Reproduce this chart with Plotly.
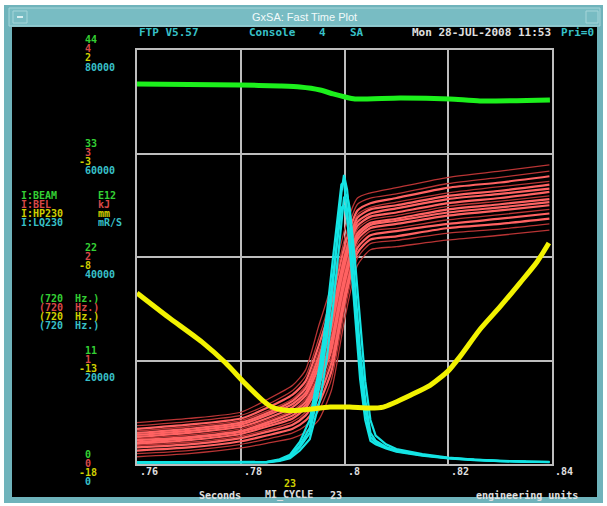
import plotly.graph_objects as go

W, H = 607, 506

# ---------------- data ----------------
x_ticks = [0.76, 0.78, 0.80, 0.82, 0.84]
x_tick_labels = [".76", ".78", ".8", ".82", ".84"]

channels = ["I:BEAM", "I:BEL", "I:HP230", "I:LQ230"]
units = ["E12", "kJ", "mm", "mR/S"]
rates = ["(720\u00a0\u00a0Hz.)"] * 4

green_ticks = [0, 11, 22, 33, 44]
red_ticks = [0, 1, 2, 3, 4]
yellow_ticks = [-18, -13, -8, -3, 2]
cyan_ticks = [0, 20000, 40000, 60000, 80000]

# I:BEAM (E12)
beam_t = [.760, .7799, .7876, .7914, .7953, .7978, .8001, .802, .8107, .8203, .8261, .8396]
beam_v = [40.39, 40.28, 40.17, 40.07, 39.75, 39.33, 39.01, 38.80, 38.91, 38.80, 38.58, 38.69]

# I:HP230 (mm)
hp_t = [.760, .766, .7725, .777, .7808, .7841, .786, .7885, .7914, .7972, .801, .8049, .8075,
        .8095, .8125, .8165, .820, .8223, .8261, .830, .8338, .8371, .8394]
hp_v = [-9.74, -10.9, -12.1, -13.1, -14.1, -14.9, -15.25, -15.4, -15.4, -15.25, -15.25, -15.3, -15.25,
        -15.05, -14.7, -14.2, -13.5, -12.8, -11.5, -10.4, -9.26, -8.24, -7.32]

# I:LQ230 (mR/S) - several pulses
lq_t = [.760, .770, .780, .785, .7875, .7895, .7914, .7933, .7953, .7966, .7978, .7987, .7994, .7999,
        .8005, .801, .802, .803, .804, .805, .806, .808, .810, .815, .820, .825, .830, .835, .8395]
lq_1 = [300, 300, 300, 350, 700, 1350, 3300, 6000, 15650, 24500, 35000, 44600, 52400, 55850,
        53000, 47700, 35000, 22000, 12400, 6000, 4500, 3300, 2600, 1740, 1160, 800, 580, 420, 390]
lq_2 = [300, 300, 320, 400, 900, 1800, 4300, 8500, 19500, 29000, 40000, 48500, 54000, 54500,
        49000, 42000, 29000, 16500, 8500, 4500, 3800, 3000, 2400, 1600, 1100, 750, 560, 410, 380]
lq_3 = [300, 300, 300, 330, 600, 1100, 2600, 4800, 12500, 20500, 30500, 40000, 47500, 51500,
        52000, 49500, 39500, 27000, 16000, 8500, 5500, 3800, 2900, 1900, 1250, 850, 600, 440, 400]
lq_4 = [280, 280, 300, 340, 750, 1500, 3600, 7000, 17500, 26500, 36500, 44500, 49500, 50000,
        47500, 42500, 31500, 19000, 10500, 5200, 4200, 3200, 2500, 1700, 1150, 780, 570, 420, 390]
lq_series = [lq_1, lq_2, lq_3, lq_4]

# I:BEL (kJ) - one curve per cycle
bel_t = [.76, .77, .78, .785, .79, .7925, .795, .7975, .80, .8025, .805, .81, .82, .83, .8395]
bel_01 = [0.40, 0.44, 0.50, 0.62, 0.76, 0.91, 1.33, 1.73, 2.26, 2.57, 2.62, 2.67, 2.77, 2.83, 2.89]
bel_02 = [0.37, 0.41, 0.47, 0.57, 0.71, 0.85, 1.21, 1.63, 2.17, 2.51, 2.57, 2.61, 2.71, 2.77, 2.83]
bel_03 = [0.34, 0.38, 0.44, 0.54, 0.67, 0.80, 1.14, 1.55, 2.10, 2.45, 2.52, 2.57, 2.67, 2.72, 2.78]
bel_04 = [0.32, 0.36, 0.42, 0.51, 0.63, 0.76, 1.08, 1.48, 2.04, 2.41, 2.48, 2.53, 2.62, 2.68, 2.73]
bel_05 = [0.30, 0.34, 0.40, 0.49, 0.61, 0.73, 1.03, 1.43, 2.00, 2.38, 2.46, 2.50, 2.59, 2.64, 2.70]
bel_06 = [0.28, 0.32, 0.38, 0.47, 0.58, 0.69, 0.98, 1.37, 1.95, 2.34, 2.42, 2.47, 2.56, 2.61, 2.66]
bel_07 = [0.26, 0.30, 0.36, 0.44, 0.55, 0.66, 0.93, 1.30, 1.90, 2.30, 2.39, 2.43, 2.52, 2.57, 2.63]
bel_08 = [0.245, 0.28, 0.34, 0.42, 0.52, 0.63, 0.89, 1.25, 1.85, 2.27, 2.36, 2.40, 2.49, 2.54, 2.59]
bel_09 = [0.23, 0.26, 0.32, 0.40, 0.50, 0.60, 0.84, 1.20, 1.81, 2.23, 2.33, 2.37, 2.46, 2.51, 2.56]
bel_10 = [0.21, 0.25, 0.31, 0.38, 0.47, 0.57, 0.80, 1.15, 1.76, 2.20, 2.31, 2.35, 2.43, 2.48, 2.53]
bel_11 = [0.195, 0.23, 0.29, 0.36, 0.44, 0.54, 0.76, 1.10, 1.72, 2.17, 2.28, 2.32, 2.40, 2.45, 2.50]
bel_12 = [0.18, 0.21, 0.27, 0.33, 0.41, 0.50, 0.70, 1.04, 1.67, 2.13, 2.25, 2.28, 2.36, 2.41, 2.46]
bel_13 = [0.16, 0.19, 0.25, 0.31, 0.38, 0.47, 0.65, 0.98, 1.62, 2.09, 2.21, 2.25, 2.32, 2.37, 2.42]
bel_14 = [0.13, 0.16, 0.22, 0.275, 0.34, 0.42, 0.58, 0.90, 1.55, 2.04, 2.17, 2.20, 2.28, 2.32, 2.37]
bel_15 = [0.10, 0.13, 0.19, 0.24, 0.30, 0.37, 0.51, 0.82, 1.48, 1.99, 2.13, 2.16, 2.23, 2.27, 2.32]
bel_16 = [0.07, 0.10, 0.155, 0.20, 0.25, 0.31, 0.425, 0.715, 1.39, 1.92, 2.07, 2.10, 2.165, 2.21, 2.26]
bel_series = [bel_01, bel_02, bel_03, bel_04, bel_05, bel_06, bel_07, bel_08,
              bel_09, bel_10, bel_11, bel_12, bel_13, bel_14, bel_15, bel_16]

# ---------------- styling ----------------
GREEN = "#1cf01c"
RED_L = "#ff6262"
RED_D = "#b83434"
YELLOW = "#f2f200"
CYAN = "#14e4e4"
T_GREEN = "#34d034"
T_RED = "#d84848"
T_YELLOW = "#d0d000"
T_CYAN = "#38c0c8"
T_WHITE = "#e0e0e0"
GRID = "#bdbdbd"
FRAME = "#6fb3bb"
MONO = "DejaVu Sans Mono"


def px(x):
    return x / W


def py(y):
    return 1 - y / H


fig = go.Figure()

for i, s in enumerate(bel_series):
    dark = i in (0, 1, 14, 15) or i % 4 == 3
    fig.add_trace(go.Scatter(x=bel_t, y=s, mode="lines", yaxis="y", line_shape="spline",
                             line=dict(color=RED_D if dark else RED_L, width=1.3 if dark else 2.2,
                                       smoothing=0.6),
                             hoverinfo="skip", showlegend=False))

for s in lq_series:
    fig.add_trace(go.Scatter(x=lq_t, y=s, mode="lines", yaxis="y2",
                             line=dict(color=CYAN, width=2.2),
                             hoverinfo="skip", showlegend=False))

fig.add_trace(go.Scatter(x=hp_t, y=hp_v, mode="lines", yaxis="y3", line_shape="spline",
                         line=dict(color=YELLOW, width=5, smoothing=0.6),
                         hoverinfo="skip", showlegend=False))

fig.add_trace(go.Scatter(x=beam_t, y=beam_v, mode="lines", yaxis="y4", line_shape="spline",
                         line=dict(color=GREEN, width=5, smoothing=0.6),
                         hoverinfo="skip", showlegend=False))

x_dom = [137 / W, 552 / W]
y_dom = [py(464), py(50)]

fig.update_layout(
    width=W, height=H, autosize=False,
    margin=dict(l=0, r=0, t=0, b=0),
    paper_bgcolor="white",
    plot_bgcolor="rgba(0,0,0,0)",
    xaxis=dict(domain=x_dom, range=[0.76, 0.84], tickvals=x_ticks, showticklabels=False,
               showgrid=True, gridcolor=GRID, gridwidth=1.5, zeroline=False,
               showline=True, mirror=True, linecolor=GRID, linewidth=1.5, ticks=""),
    yaxis=dict(domain=y_dom, range=[red_ticks[0], red_ticks[-1]], tickvals=red_ticks,
               showticklabels=False, showgrid=True, gridcolor=GRID, gridwidth=1.5,
               zeroline=False, showline=True, mirror=True, linecolor=GRID, linewidth=1.5, ticks=""),
    yaxis2=dict(overlaying="y", range=[cyan_ticks[0], cyan_ticks[-1]], visible=False),
    yaxis3=dict(overlaying="y", range=[yellow_ticks[0], yellow_ticks[-1]], visible=False),
    yaxis4=dict(overlaying="y", range=[green_ticks[0], green_ticks[-1]], visible=False),
)

shapes = [
    dict(type="rect", xref="paper", yref="paper", x0=px(4), x1=px(603), y0=py(503), y1=py(5),
         fillcolor=FRAME, line=dict(width=0), layer="below"),
    dict(type="rect", xref="paper", yref="paper", x0=px(9), x1=px(600), y0=py(26), y1=py(8),
         fillcolor="#78bcc3", line=dict(color="#a6d6da", width=1), layer="below"),
    dict(type="rect", xref="paper", yref="paper", x0=px(13), x1=px(27), y0=py(23), y1=py(11),
         fillcolor="#78bcc3", line=dict(color="#a6d6da", width=1), layer="below"),
    dict(type="line", xref="paper", yref="paper", x0=px(17), x1=px(23), y0=py(17), y1=py(17),
         line=dict(color="#d8eef0", width=2), layer="below"),
    dict(type="rect", xref="paper", yref="paper", x0=px(586), x1=px(598), y0=py(23), y1=py(11),
         fillcolor="#78bcc3", line=dict(color="#a6d6da", width=1), layer="below"),
    dict(type="rect", xref="paper", yref="paper", x0=px(12), x1=px(597), y0=py(497), y1=py(27),
         fillcolor="black", line=dict(width=0), layer="below"),
]
fig.update_layout(shapes=shapes)

ann = []


def txt(x, y, s, color, size=10, anchor="left", family=MONO, bold=True):
    ann.append(dict(xref="paper", yref="paper", x=px(x), y=py(y),
                    text=("<b>%s</b>" % s) if bold else s, showarrow=False,
                    xanchor=anchor, yanchor="middle", font=dict(family=family, size=size, color=color)))


# title bar
txt(304, 17, "GxSA: Fast Time Plot", "#f2fafa", size=11, anchor="center",
    family="Liberation Sans", bold=False)

# header line
txt(137, 33, "FTP V5.57", T_CYAN, size=11)
txt(247, 33, "Console", T_CYAN, size=11)
txt(317, 33, "4", T_CYAN, size=11)
txt(348, 33, "SA", T_CYAN, size=11)
txt(410, 33, "Mon 28-JUL-2008 11:53", T_WHITE, size=11)
txt(559, 33, "Pri=0", T_CYAN, size=11)

# channel legend
colors = [T_GREEN, T_RED, T_YELLOW, T_CYAN]
for i in range(4):
    txt(19, 195 + 9 * i, channels[i], colors[i])
    txt(96, 195 + 9 * i, units[i], colors[i])
    txt(37, 298 + 9.3 * i, rates[i], colors[i])

# stacked y-axis labels tied to each axis
for axis, ticks, col, shift in (("y4", green_ticks, T_GREEN, 9), ("y", red_ticks, T_RED, 0),
                                ("y3", yellow_ticks, T_YELLOW, -9), ("y2", cyan_ticks, T_CYAN, -18)):
    for v in ticks:
        ann.append(dict(xref="paper", yref=axis, x=px(83), y=v, yshift=shift + 1,
                        xshift=-6.5 if v < 0 else 0, text="<b>%s</b>" % v, showarrow=False,
                        xanchor="left", yanchor="middle",
                        font=dict(family=MONO, size=10, color=col)))

# x tick labels
for v, lab in zip(x_ticks, x_tick_labels):
    ann.append(dict(xref="x", yref="paper", x=v, y=py(471), xshift=1, text="<b>%s</b>" % lab,
                    showarrow=False, xanchor="left", yanchor="middle",
                    font=dict(family=MONO, size=10, color=T_WHITE)))

# bottom captions
txt(282, 483, "23", T_YELLOW)
txt(197, 495, "Seconds", T_WHITE)
txt(263, 495, "MI_CYCLE", T_WHITE)
txt(328, 495, "23", T_WHITE)
txt(474, 495, "engineering units", T_WHITE)

fig.update_layout(annotations=ann)

fig.write_html("out.html", config={"responsive": False, "displayModeBar": False},
               post_script="document.body.style.margin='0';document.body.style.padding='0';"
                           "document.documentElement.style.overflow='hidden';")
